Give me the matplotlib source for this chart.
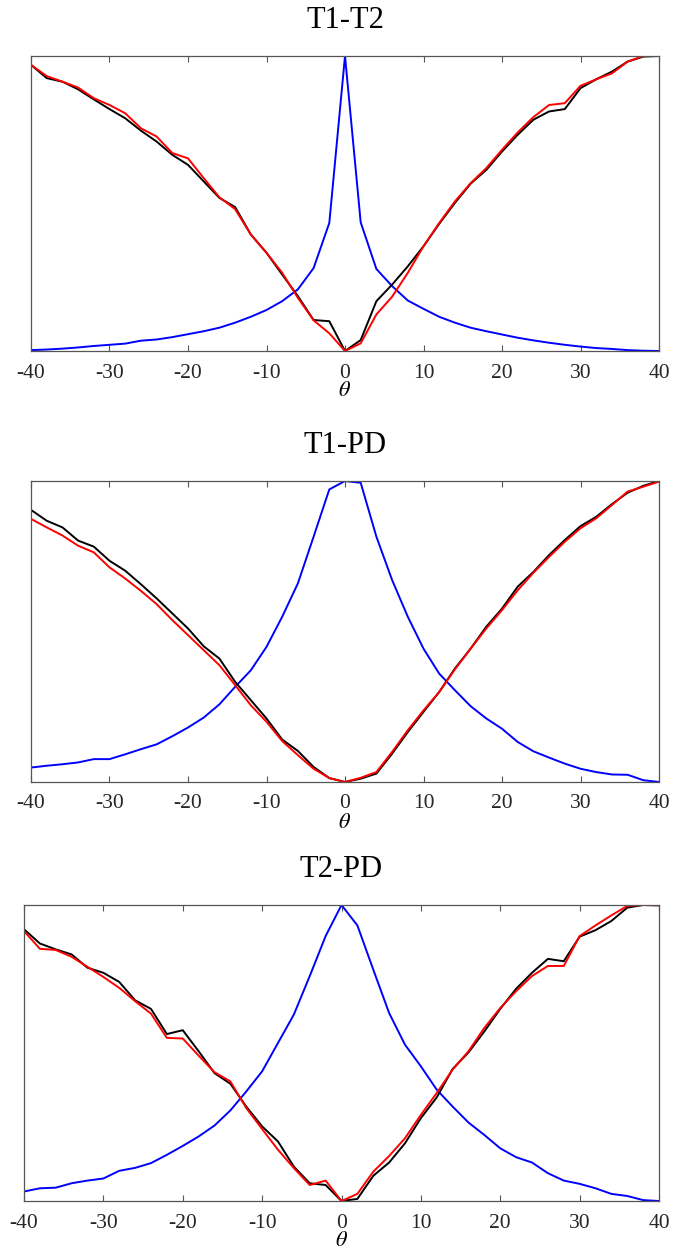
import numpy as np
import matplotlib
matplotlib.use('Agg')
from matplotlib import pyplot as plt

plt.rcParams['font.family'] = ['Liberation Serif', 'DejaVu Serif']
plt.rcParams['mathtext.fontset'] = 'stix'
plt.rcParams['axes.unicode_minus'] = False

theta = np.arange(-40, 41, 2)

# T1-T2
t1t2_black = [0.970, 0.925, 0.913, 0.887, 0.853, 0.820, 0.789, 0.747, 0.710, 0.665,
              0.631, 0.575, 0.519, 0.488, 0.395, 0.333, 0.259, 0.186, 0.105, 0.101,
              0.0, 0.037, 0.169, 0.225, 0.287, 0.355, 0.431, 0.502, 0.567, 0.614,
              0.676, 0.733, 0.784, 0.812, 0.820, 0.891, 0.921, 0.947, 0.981, 0.998, 1.0]
t1t2_red = [0.970, 0.932, 0.913, 0.893, 0.857, 0.834, 0.806, 0.755, 0.727, 0.671,
            0.653, 0.586, 0.521, 0.481, 0.395, 0.333, 0.265, 0.180, 0.104, 0.060,
            0.0, 0.026, 0.124, 0.184, 0.265, 0.355, 0.434, 0.507, 0.569, 0.620,
            0.682, 0.741, 0.793, 0.834, 0.840, 0.899, 0.921, 0.941, 0.981, 1.0, 1.0]
t1t2_blue = [0.003, 0.005, 0.008, 0.012, 0.017, 0.021, 0.025, 0.035, 0.039, 0.047,
             0.057, 0.067, 0.079, 0.096, 0.116, 0.139, 0.169, 0.209, 0.281, 0.434,
             1.0, 0.436, 0.278, 0.220, 0.171, 0.143, 0.116, 0.096, 0.079, 0.067,
             0.056, 0.045, 0.036, 0.028, 0.021, 0.015, 0.010, 0.007, 0.003, 0.001, 0.0]

# T1-PD
t1pd_black = [0.904, 0.868, 0.846, 0.802, 0.782, 0.735, 0.702, 0.657, 0.610, 0.560,
              0.510, 0.451, 0.410, 0.333, 0.272, 0.211, 0.141, 0.103, 0.050, 0.013,
              0.0, 0.011, 0.028, 0.094, 0.166, 0.233, 0.299, 0.377, 0.443, 0.516,
              0.576, 0.649, 0.698, 0.754, 0.804, 0.850, 0.881, 0.923, 0.961, 0.984, 1.0]
t1pd_red = [0.874, 0.846, 0.819, 0.785, 0.763, 0.713, 0.676, 0.635, 0.591, 0.538,
            0.488, 0.438, 0.388, 0.322, 0.255, 0.200, 0.136, 0.089, 0.044, 0.013,
            0.0, 0.014, 0.033, 0.100, 0.172, 0.238, 0.299, 0.374, 0.443, 0.510,
            0.571, 0.637, 0.695, 0.748, 0.798, 0.843, 0.876, 0.920, 0.965, 0.981, 0.998]
t1pd_blue = [0.048, 0.054, 0.059, 0.065, 0.076, 0.076, 0.092, 0.109, 0.125, 0.152,
             0.181, 0.214, 0.258, 0.316, 0.371, 0.449, 0.549, 0.660, 0.815, 0.972,
             1.0, 0.994, 0.815, 0.671, 0.549, 0.443, 0.360, 0.305, 0.252, 0.211,
             0.177, 0.133, 0.102, 0.081, 0.061, 0.044, 0.033, 0.025, 0.024, 0.006, 0.0]

# T2-PD
t2pd_black = [0.918, 0.870, 0.850, 0.833, 0.788, 0.771, 0.740, 0.678, 0.649, 0.564,
              0.577, 0.506, 0.432, 0.396, 0.319, 0.252, 0.201, 0.116, 0.060, 0.054,
              0.0, 0.007, 0.085, 0.130, 0.195, 0.280, 0.350, 0.446, 0.502, 0.573,
              0.649, 0.717, 0.771, 0.818, 0.810, 0.893, 0.915, 0.946, 0.991, 1.0, 0.999]
t2pd_red = [0.912, 0.852, 0.848, 0.825, 0.791, 0.757, 0.720, 0.675, 0.633, 0.551,
            0.549, 0.491, 0.435, 0.404, 0.314, 0.243, 0.173, 0.111, 0.054, 0.069,
            0.0, 0.024, 0.099, 0.152, 0.212, 0.291, 0.365, 0.444, 0.506, 0.585,
            0.652, 0.709, 0.760, 0.794, 0.794, 0.895, 0.931, 0.965, 0.997, 1.0, 0.999]
t2pd_blue = [0.032, 0.043, 0.045, 0.060, 0.069, 0.076, 0.102, 0.112, 0.128, 0.156,
             0.186, 0.218, 0.255, 0.306, 0.370, 0.438, 0.534, 0.630, 0.760, 0.895,
             1.0, 0.931, 0.782, 0.635, 0.528, 0.455, 0.376, 0.319, 0.265, 0.223,
             0.178, 0.148, 0.130, 0.094, 0.069, 0.058, 0.043, 0.024, 0.017, 0.003, 0.0]

titles = ['T1-T2', 'T1-PD', 'T2-PD']
panels = [(t1t2_black, t1t2_red, t1t2_blue),
          (t1pd_black, t1pd_red, t1pd_blue),
          (t2pd_black, t2pd_red, t2pd_blue)]
# axes boxes in pixels: left, right, top, bottom
boxes = [(31, 659, 56, 351), (31, 659, 481, 782), (24, 659, 905, 1201)]

W, H = 673, 1258
fig = plt.figure(figsize=(W / 100, H / 100), dpi=100)

for title, (black, red, blue), (l, r, t, b) in zip(titles, panels, boxes):
    ax = fig.add_axes([l / W, 1 - b / H, (r - l) / W, (b - t) / H])
    ax.plot(theta, blue, color='#0000ff', lw=1.4)
    ax.plot(theta, black, color='black', lw=1.4)
    ax.plot(theta, red, color='#ff0000', lw=1.4)
    ax.set_xlim(-40, 40)
    ax.set_ylim(0, 1)
    ax.set_xticks(range(-40, 41, 10))
    ax.set_yticks([])
    ax.tick_params(axis='x', direction='in', top=True, length=4, width=0.8,
                   color='#555555', labelsize=15.5, pad=9, labelcolor='#262626')
    for sp in ax.spines.values():
        sp.set_color('#555555')
        sp.set_linewidth(0.9)
    ax.set_title(title, fontsize=22, pad=20)
    ax.set_xlabel(r'$\theta$', fontsize=16, labelpad=0)

fig.savefig('out.png', dpi=100)
